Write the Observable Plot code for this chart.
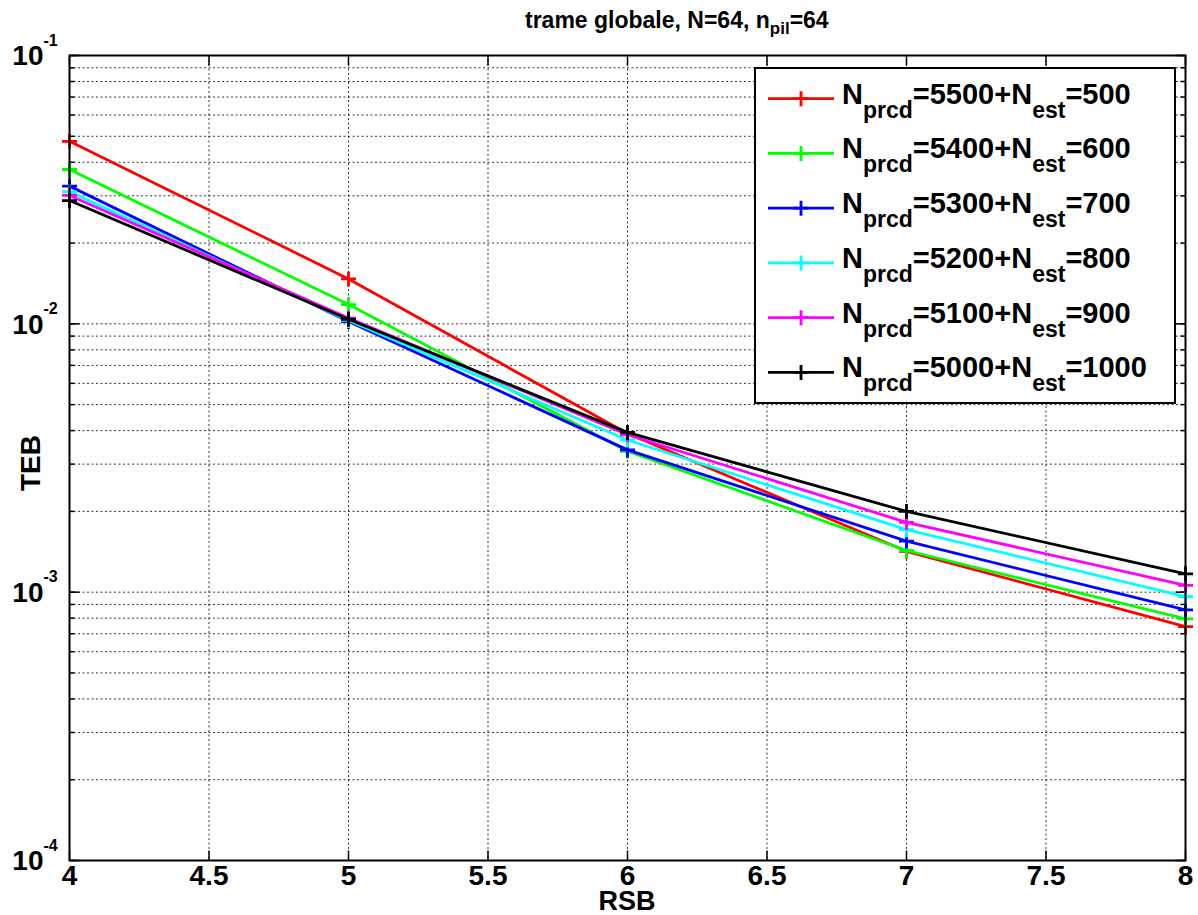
<!DOCTYPE html>
<html>
<head>
<meta charset="utf-8">
<script src="https://cdn.jsdelivr.net/npm/d3@7"></script>
<script src="https://cdn.jsdelivr.net/npm/@observablehq/plot@0.6"></script>
<style>
  html, body { margin: 0; padding: 0; background: #fff; }
  #chart { width: 1198px; height: 915px; }
</style>
</head>
<body>
<div id="chart"></div>
<script>
// ---- data ----
const snr = [4, 5, 6, 7, 8];
const teb_5500 = [0.0479, 0.0147, 0.0039, 0.00142, 0.000744];
const teb_5400 = [0.0376, 0.0118, 0.00335, 0.00143, 0.000795];
const teb_5300 = [0.0326, 0.0102, 0.00339, 0.00155, 0.000859];
const teb_5200 = [0.0311, 0.0103, 0.00369, 0.00171, 0.000963];
const teb_5100 = [0.0301, 0.0105, 0.00386, 0.00182, 0.00106];
const teb_5000 = [0.0288, 0.0104, 0.00394, 0.00200, 0.00117];

const nPrcd = [5500, 5400, 5300, 5200, 5100, 5000];
const nEst = [500, 600, 700, 800, 900, 1000];
const colors = ["#ff0000", "#00ff00", "#0000ff", "#00ffff", "#ff00ff", "#000000"];
const seriesValues = [teb_5500, teb_5400, teb_5300, teb_5200, teb_5100, teb_5000];

const xTicks = [4, 4.5, 5, 5.5, 6, 6.5, 7, 7.5, 8];
const xTickLabels = ["4", "4.5", "5", "5.5", "6", "6.5", "7", "7.5", "8"];
const yDecades = [1e-4, 1e-3, 1e-2, 1e-1];
const yExponents = ["-4", "-3", "-2", "-1"];
const mantissas = [1, 2, 3, 4, 5, 6, 7, 8, 9];

// ---- derived tables ----
const series = nPrcd.map((p, i) => ({prcd: p, est: nEst[i], color: colors[i],
  rows: snr.map((x, j) => ({x, y: seriesValues[i][j]}))}));
const yMinor = yDecades.slice(0, 3).flatMap(d => mantissas.map(m => m * d)).concat([yDecades[3]]);
const yLabelRows = yDecades.map((d, i) => ({y: d, e: yExponents[i]}));
const xLabelRows = xTicks.map((x, i) => ({x, t: xTickLabels[i]}));

// ---- symbols ----
const plusSym = {draw(ctx, size) { const r = Math.sqrt(size / Math.PI);
  ctx.moveTo(-r, 0); ctx.lineTo(r, 0); ctx.moveTo(0, -r); ctx.lineTo(0, r); }};
const tickUp = {draw(ctx) { ctx.moveTo(0, 0); ctx.lineTo(0, -10); }};
const tickDown = {draw(ctx) { ctx.moveTo(0, 0); ctx.lineTo(0, 10); }};
const tickRightMaj = {draw(ctx) { ctx.moveTo(0, 0); ctx.lineTo(10, 0); }};
const tickLeftMaj = {draw(ctx) { ctx.moveTo(0, 0); ctx.lineTo(-10, 0); }};
const tickRightMin = {draw(ctx) { ctx.moveTo(0, 0); ctx.lineTo(5, 0); }};
const tickLeftMin = {draw(ctx) { ctx.moveTo(0, 0); ctx.lineTo(-5, 0); }};

const FONT = "'Liberation Sans', Arial, Helvetica, sans-serif";
const gridStyle = {stroke: "#000", strokeWidth: 1, strokeDasharray: "2,2.5", strokeOpacity: 0.8};

const marks = [
  Plot.ruleX(xTicks, {x: d => d, ...gridStyle}),
  Plot.ruleY(yMinor, {y: d => d, ...gridStyle}),
  // tick marks
  Plot.dot(xTicks, {x: d => d, frameAnchor: "bottom", symbol: tickUp, stroke: "#000", strokeWidth: 1.5, fill: "none"}),
  Plot.dot(xTicks, {x: d => d, frameAnchor: "top", symbol: tickDown, stroke: "#000", strokeWidth: 1.5, fill: "none"}),
  Plot.dot(yMinor, {y: d => d, frameAnchor: "left", symbol: tickRightMin, stroke: "#000", strokeWidth: 1.5, fill: "none"}),
  Plot.dot(yMinor, {y: d => d, frameAnchor: "right", symbol: tickLeftMin, stroke: "#000", strokeWidth: 1.5, fill: "none"}),
  Plot.dot(yDecades, {y: d => d, frameAnchor: "left", symbol: tickRightMaj, stroke: "#000", strokeWidth: 1.5, fill: "none"}),
  Plot.dot(yDecades, {y: d => d, frameAnchor: "right", symbol: tickLeftMaj, stroke: "#000", strokeWidth: 1.5, fill: "none"}),
];
for (const s of series) {
  marks.push(Plot.line(s.rows, {x: "x", y: "y", stroke: s.color, strokeWidth: 2.8}));
  marks.push(Plot.dot(s.rows, {x: "x", y: "y", symbol: plusSym, r: 7.5, stroke: s.color, strokeWidth: 2.8, fill: "none"}));
}
marks.push(
  Plot.frame({stroke: "#000", strokeWidth: 2}),
  Plot.text(xLabelRows, {x: "x", text: "t", frameAnchor: "bottom", dy: 24, fontSize: 28, fill: "#000"}),
  Plot.text(yLabelRows, {y: "y", text: () => "10", frameAnchor: "left", textAnchor: "end", dx: -26, dy: 1, fontSize: 28, fill: "#000"}),
  Plot.text(yLabelRows, {y: "y", text: "e", frameAnchor: "left", textAnchor: "start", dx: -26, dy: -15, fontSize: 16, fill: "#000"})
);

const chart = Plot.plot({
  width: 1198,
  height: 915,
  marginLeft: 69,
  marginRight: 13,
  marginTop: 55,
  marginBottom: 55,
  style: {fontFamily: FONT, fontWeight: "bold", background: "#fff", overflow: "visible"},
  x: {domain: [4, 8], axis: null},
  y: {type: "log", domain: [1e-4, 1e-1], axis: null},
  marks
});
document.getElementById("chart").appendChild(chart);

// ---- title, axis labels, legend (text with sub-scripts) ----
const svg = d3.select(chart);
const title = svg.append("text").attr("x", 525).attr("y", 28).attr("text-anchor", "start")
  .attr("font-family", FONT).attr("font-weight", "bold").attr("font-size", 23).attr("fill", "#000");
title.append("tspan").text("trame globale, N=64, n");
title.append("tspan").attr("font-size", 17).attr("dy", 6).text("pil");
title.append("tspan").attr("dy", -6).text("=64");

svg.append("text").attr("x", 627).attr("y", 910).attr("text-anchor", "middle")
  .attr("font-family", FONT).attr("font-weight", "bold").attr("font-size", 27).attr("fill", "#000").text("RSB");
svg.append("text").attr("transform", "translate(40,463) rotate(-90)").attr("text-anchor", "middle")
  .attr("font-family", FONT).attr("font-weight", "bold").attr("font-size", 28).attr("fill", "#000").text("TEB");

const lg = svg.append("g").attr("font-family", FONT).attr("font-weight", "bold").attr("text-anchor", "start");
lg.append("rect").attr("x", 755).attr("y", 68).attr("width", 420).attr("height", 335)
  .attr("fill", "#fff").attr("stroke", "#000").attr("stroke-width", 2);
series.forEach((s, i) => {
  const cy = 98.7 + 54.75 * i;
  lg.append("line").attr("x1", 768).attr("x2", 834).attr("y1", cy).attr("y2", cy)
    .attr("stroke", s.color).attr("stroke-width", 2.8);
  lg.append("path").attr("d", `M${801 - 7.5},${cy}H${801 + 7.5}M801,${cy - 7.5}V${cy + 7.5}`)
    .attr("stroke", s.color).attr("stroke-width", 2.8).attr("fill", "none");
  const t = lg.append("text").attr("x", 842).attr("y", cy + 5).attr("font-size", 29)
    .attr("fill", "#000").attr("text-anchor", "start");
  t.append("tspan").text("N");
  t.append("tspan").attr("font-size", 23).attr("dy", 14).text("prcd");
  t.append("tspan").attr("dy", -14).text(`=${s.prcd}+N`);
  t.append("tspan").attr("font-size", 23).attr("dy", 14).text("est");
  t.append("tspan").attr("dy", -14).text(`=${s.est}`);
});
</script>
</body>
</html>
